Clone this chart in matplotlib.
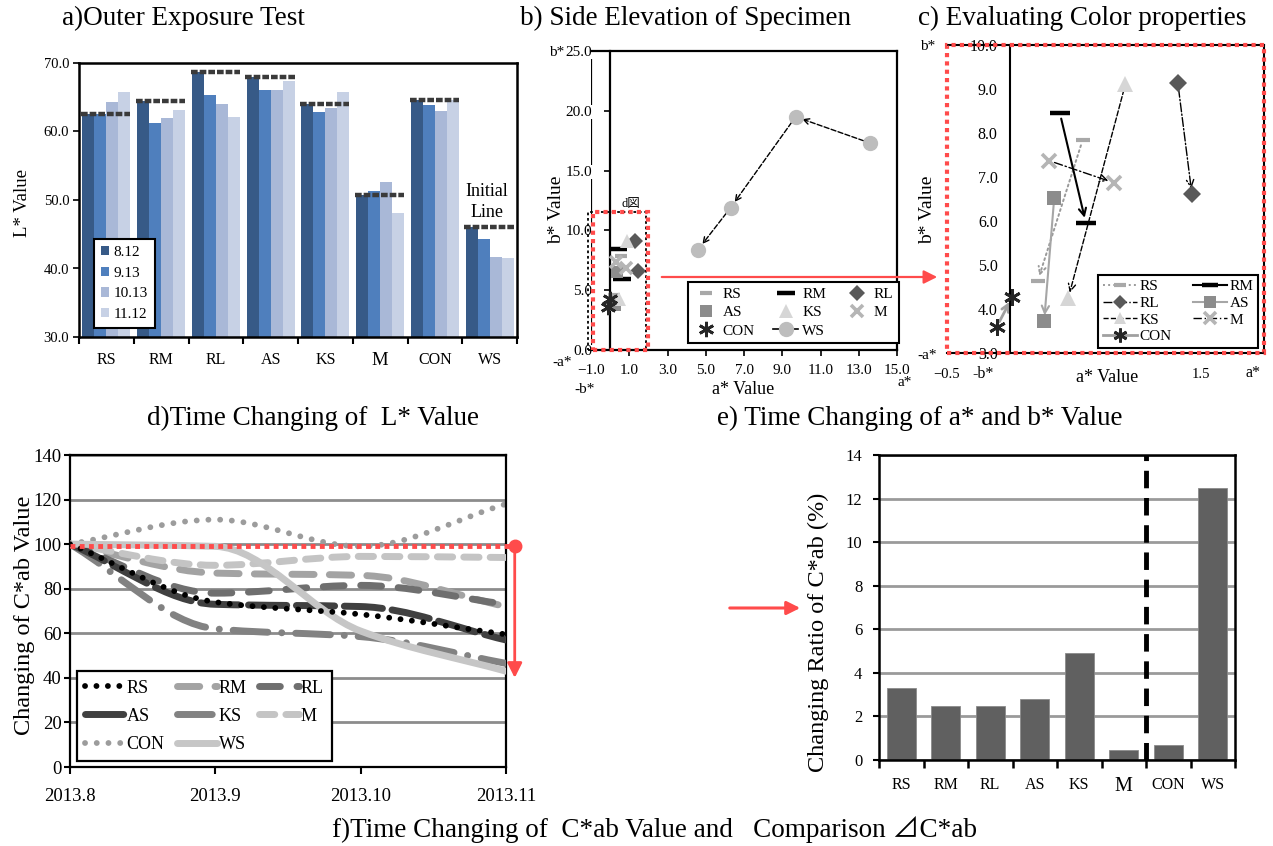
import numpy as np
import matplotlib
matplotlib.use("Agg")
import matplotlib.pyplot as plt
import matplotlib.transforms as mtransforms
from matplotlib.path import Path
from matplotlib.patches import PathPatch, Rectangle, FancyArrowPatch
from matplotlib.lines import Line2D

plt.rcParams["font.family"] = ["Liberation Serif", "Noto Sans CJK JP", "DejaVu Sans"]
plt.rcParams["axes.unicode_minus"] = True

# ---------------- data ----------------
cats = ["RS", "RM", "RL", "AS", "KS", "M", "CON", "WS"]

# a) L* value at each measuring date
dates_a = ["8.12", "9.13", "10.13", "11.12"]
l_812 = [62.6, 64.5, 68.7, 68.0, 64.0, 50.7, 64.6, 46.0]
l_913 = [62.6, 61.2, 65.3, 66.0, 62.9, 51.3, 63.9, 44.3]
l_1013 = [64.3, 62.0, 64.0, 66.1, 63.5, 52.6, 63.0, 41.7]
l_1112 = [65.7, 63.2, 62.1, 67.3, 65.7, 48.1, 64.6, 41.6]

# b), c) a*/b* coordinates: first and last measurement (RS..CON)
ab_names = ["RS", "RM", "RL", "AS", "KS", "M", "CON"]
a_start = [0.571, 0.392, 1.321, 0.347, 0.908, 0.308, -0.105]
b_start = [7.84, 8.45, 9.14, 6.52, 9.11, 7.37, 3.60]
a_end = [0.216, 0.597, 1.432, 0.268, 0.458, 0.816, 0.018]
b_end = [4.63, 5.95, 6.61, 3.73, 4.25, 6.87, 4.28]
ws_a = [13.6, 9.7, 6.3, 4.6]
ws_b = [17.3, 19.5, 11.9, 8.4]

# d) relative C*ab value (%) per month
months = ["2013.8", "2013.9", "2013.10", "2013.11"]
c_rs = [100, 74, 68.5, 59.5]
c_rm = [100, 87, 86, 72]
c_rl = [100, 78, 81.5, 73]
c_as = [100, 73, 72, 57]
c_ks = [100, 62, 58.5, 46.5]
c_m = [100, 90.5, 94.5, 94]
c_con = [100, 111, 99, 118]
c_ws = [100, 99, 61, 43]
c_initial = 99

# e) changing ratio of C*ab (%)
ratio = [3.29, 2.49, 2.49, 2.80, 4.91, 0.44, 0.69, 12.5]

# ---------------- layout helpers ----------------
W, H = 1273, 846
fig = plt.figure(figsize=(W / 100, H / 100), dpi=100)
RED = "#ff4b4b"


def box(x0, y0, x1, y1):
    return [x0 / W, 1 - y1 / H, (x1 - x0) / W, (y1 - y0) / H]


def ftext(x, y, s, **kw):
    kw.setdefault("ha", "center")
    kw.setdefault("va", "center")
    fig.text(x / W, 1 - y / H, s, **kw)


def smooth_path(xs, ys):
    """Monotone cubic (PCHIP-style) curve through the points as Bezier segments."""
    xs = np.asarray(xs, float)
    ys = np.asarray(ys, float)
    h = np.diff(xs)
    d = np.diff(ys) / h
    m = np.zeros_like(ys)
    m[0], m[-1] = d[0], d[-1]
    for i in range(1, len(ys) - 1):
        if d[i - 1] * d[i] > 0:
            m[i] = 2.0 / (1.0 / d[i - 1] + 1.0 / d[i])
    verts = [(xs[0], ys[0])]
    codes = [Path.MOVETO]
    for i in range(len(xs) - 1):
        verts += [(xs[i] + h[i] / 3, ys[i] + m[i] * h[i] / 3),
                  (xs[i + 1] - h[i] / 3, ys[i + 1] - m[i + 1] * h[i] / 3),
                  (xs[i + 1], ys[i + 1])]
        codes += [Path.CURVE4] * 3
    return Path(verts, codes)


# titles
TFS = 19.5
ftext(183, 18, "a)Outer Exposure Test", fontsize=TFS)
ftext(685, 18, "b) Side Elevation of Specimen", fontsize=TFS)
ftext(1082, 18, "c) Evaluating Color properties", fontsize=TFS)
ftext(313, 418, "d)Time Changing of  L* Value", fontsize=TFS)
ftext(920, 418, "e) Time Changing of a* and b* Value", fontsize=TFS)
ftext(654, 830, "f)Time Changing of  C*ab Value and   Comparison \u22bfC*ab",
      fontsize=TFS, family=["Liberation Serif", "Noto Sans CJK JP"])

# ---------------- a) bar chart ----------------
ax = fig.add_axes(box(79, 63, 517, 337))
x = np.arange(len(cats))
bw = 0.22
cols_a = ["#375a87", "#4f7fbd", "#a9b8d7", "#c7d1e5"]
for k, (vals, c, lab) in enumerate(zip([l_812, l_913, l_1013, l_1112], cols_a, dates_a)):
    ax.bar(x + (k - 1.5) * bw, vals, bw, color=c, label=lab, zorder=2)
for i, v in enumerate(l_812):
    ax.plot([i - 0.46, i + 0.44], [v, v], color="#3a3a3a", lw=3.2,
            ls=(0, (1.5, 0.45)), solid_capstyle="butt", zorder=3)
ax.text(6.95, 49.7, "Initial\nLine", ha="center", va="center", fontsize=13,
        linespacing=1.3)
ax.set_xlim(-0.5, 7.5)
ax.set_ylim(30, 70)
ax.set_yticks(np.arange(30, 71, 10))
ax.set_yticklabels([f"{v:.1f}" for v in np.arange(30, 71, 10)], fontsize=10.5)
ax.set_xticks(x)
ax.set_xticklabels(cats, fontsize=11.5)
for lbl in ax.get_xticklabels():
    if lbl.get_text() == "M":
        lbl.set_fontsize(13.5)
ax.set_xticks(np.arange(-0.5, 8, 1), minor=True)
ax.tick_params(axis="x", which="major", length=0, pad=11)
ax.tick_params(axis="x", which="minor", length=5, width=1.5, direction="out")
ax.tick_params(axis="y", length=4, width=1.2, direction="out", pad=3)
for s in ax.spines.values():
    s.set_linewidth(1.8)
ax.set_ylabel("L* Value", fontsize=13.5)
ax.yaxis.set_label_coords(-0.11, 0.489)
leg = ax.legend(loc="lower left", bbox_to_anchor=(0.034, 0.033), fontsize=11,
                fancybox=False, edgecolor="black", handlelength=0.55,
                handleheight=0.55, labelspacing=0.5, borderpad=0.45,
                handletextpad=0.3, framealpha=1, borderaxespad=0)
leg.get_frame().set_linewidth(1.5)

# ---------------- marker styles for a*/b* panels ----------------
mstyle = {
    "RS": dict(marker="_", color="#a8a8a8", ms=9, mew=3),
    "RM": dict(marker="_", color="black", ms=13, mew=3.2),
    "RL": dict(marker="D", color="#595959", ms=8, mew=0),
    "AS": dict(marker="s", color="#8c8c8c", ms=9, mew=0),
    "KS": dict(marker="^", color="#d6d6d6", ms=10, mew=0),
    "M": dict(marker="x", color="#b5b5b5", ms=9, mew=2.6),
    "CON": dict(marker=(6, 2, 0), color="#262626", ms=11, mew=2),
}
lstyle = {
    "RS": dict(color="#9a9a9a", ls=":", lw=1.4),
    "RM": dict(color="black", ls="-", lw=1.5),
    "RL": dict(color="black", ls="-.", lw=1.0),
    "AS": dict(color="#a6a6a6", ls="-", lw=1.5),
    "KS": dict(color="black", ls="--", lw=1.0),
    "M": dict(color="black", ls=(0, (6, 2, 1, 2)), lw=1.0),
    "CON": dict(color="#a0a0a0", ls="-", lw=2.0),
}

# ---------------- b) a*-b* plane ----------------
ax = fig.add_axes(box(591, 51, 897, 350))
ax.set_xlim(-1, 15)
ax.set_ylim(0, 25)
ax.spines["left"].set_position(("data", 0))
for s in ax.spines.values():
    s.set_linewidth(1.6)
ax.axvline(-1, color="black", lw=1.6, zorder=0)
ax.set_xticks(np.arange(-1, 16, 2))
ax.set_xticklabels([f"{v:.1f}".replace("-", "\u2212") for v in np.arange(-1, 16, 2)],
                   fontsize=11)
ax.set_yticks(np.arange(0, 26, 5))
ax.set_yticklabels([f"{v:.1f}" for v in np.arange(0, 26, 5)], fontsize=11)
ax.tick_params(axis="x", length=4, width=1.2, direction="out", pad=6)
ax.tick_params(axis="y", length=4, width=1.2, direction="out", pad=9)
for lbl in ax.get_yticklabels():
    lbl.set_bbox(dict(facecolor="white", edgecolor="none", pad=0.3))
ax.add_patch(Rectangle((-1.15, 0), 3.05, 11.5, fill=False, ec="black",
                       ls=(0, (1.5, 1.5)), lw=1.3, zorder=4, clip_on=False))
ax.add_patch(Rectangle((-0.9, 0), 2.9, 11.5, fill=False, ec=RED, ls=(0, (1, 1)),
                       lw=3, zorder=5, clip_on=False))
ax.text(1.1, 12.2, "d\u56f3", fontsize=9, ha="center", va="center",
        family=["Liberation Serif", "Noto Sans CJK JP"])
handles_b = {}
for i, name in enumerate(ab_names):
    st = mstyle[name]
    h, = ax.plot([a_start[i], a_end[i]], [b_start[i], b_end[i]], ls="none",
                 marker=st["marker"], color=st["color"], ms=st["ms"], mew=st["mew"],
                 zorder=3)
    handles_b[name] = h
ax.plot(ws_a, ws_b, ls="none", marker="o", color="#bdbdbd", ms=10, zorder=3)
for j in range(len(ws_a) - 1):
    ax.annotate("", xy=(ws_a[j + 1], ws_b[j + 1]), xytext=(ws_a[j], ws_b[j]),
                arrowprops=dict(arrowstyle="->", color="black", lw=1.0, ls="--",
                                shrinkA=5, shrinkB=5, mutation_scale=10), zorder=2)
handles_b["WS"] = Line2D([], [], color="black", lw=1.2, marker="o",
                         mfc="#bdbdbd", mec="#bdbdbd", ms=10)
order = ["RS", "AS", "CON", "RM", "KS", "WS", "RL", "M"]
leg = ax.legend([handles_b[n] for n in order], order, ncol=3, loc="lower right",
                bbox_to_anchor=(1.005, 0.023), fontsize=11, fancybox=False,
                edgecolor="black", framealpha=1, handlelength=1.6,
                handletextpad=0.3, columnspacing=1.2, labelspacing=0.3,
                borderpad=0.35, borderaxespad=0)
leg.get_frame().set_linewidth(1.5)
ftext(557, 52, "b*", fontsize=11)
ftext(562, 362, "-a*", fontsize=11)
ftext(585, 389, "-b*", fontsize=11)
ftext(743, 389, "a* Value", fontsize=13)
ftext(905, 382, "a*", fontsize=11)
ftext(557, 210, "b* Value", fontsize=14, rotation=90)

# ---------------- c) enlarged a*-b* plane ----------------
ax = fig.add_axes(box(946.7, 45, 1264, 353))
ax.set_xlim(-0.5, 2.0)
ax.set_ylim(3, 10)
ax.spines["left"].set_position(("data", 0))
for s in ax.spines.values():
    s.set_linewidth(1.5)
ax.set_yticks(np.arange(3, 11, 1))
ax.set_yticklabels([f"{v:.1f}" for v in np.arange(3, 11, 1)], fontsize=11.5)
ax.tick_params(axis="y", length=0, pad=9)
ax.set_xticks([-0.5, 1.5])
ax.set_xticklabels(["\u22120.5", "1.5"], fontsize=10.5)
ax.tick_params(axis="x", length=0, pad=11)
ax.add_patch(Rectangle((0, 0), 1, 1, transform=ax.transAxes, fill=False, ec=RED,
                       ls=(0, (1, 1)), lw=3, zorder=6, clip_on=False))
handles_c = {}
for i, name in enumerate(ab_names):
    st = mstyle[name]
    ls_ = lstyle[name]
    ax.annotate("", xy=(a_end[i], b_end[i]), xytext=(a_start[i], b_start[i]),
                arrowprops=dict(arrowstyle="->", color=ls_["color"], lw=ls_["lw"],
                                ls=ls_["ls"], shrinkA=4, shrinkB=4,
                                mutation_scale=13), zorder=2)
    ax.plot([a_start[i], a_end[i]], [b_start[i], b_end[i]], ls="none",
            marker=st["marker"], color=st["color"], ms=st["ms"] + 1, mew=st["mew"],
            zorder=3)
    handles_c[name] = Line2D([], [], color=ls_["color"], lw=ls_["lw"], ls=ls_["ls"],
                             marker=st["marker"], mfc=st["color"], mec=st["color"],
                             ms=st["ms"] - 1, mew=st["mew"], markevery=[1])
order_c = ["RS", "RL", "KS", "CON", "RM", "AS", "M"]
leg = ax.legend([handles_c[n] for n in order_c], order_c, ncol=2, loc="lower right",
                bbox_to_anchor=(0.982, 0.016), fontsize=11, fancybox=False,
                edgecolor="black", framealpha=1, handlelength=2.2,
                handletextpad=0.2, columnspacing=1.4, labelspacing=0.2,
                borderpad=0.3, borderaxespad=0)
leg.get_frame().set_linewidth(1.5)
ftext(928, 46, "b*", fontsize=11)
ftext(927, 355, "-a*", fontsize=11)
ftext(983, 374, "-b*", fontsize=11.5)
ftext(1107, 377, "a* Value", fontsize=13)
ftext(1253, 373, "a*", fontsize=11.5)
ftext(928, 210, "b* Value", fontsize=14, rotation=90)

# arrow from region box in b) to c)
fig.add_artist(FancyArrowPatch((659 / W, 1 - 277 / H), (940 / W, 1 - 277 / H),
                               transform=fig.transFigure, arrowstyle="-|>",
                               mutation_scale=20, color=RED, lw=1.6))

# ---------------- d) C*ab over time ----------------
ax = fig.add_axes(box(70, 455, 506, 767))
xm = np.arange(len(months))
ax.set_xlim(0, 3)
ax.set_ylim(0, 140)
ax.set_yticks(np.arange(0, 141, 20))
ax.set_yticklabels([str(v) for v in range(0, 141, 20)], fontsize=13.5)
ax.set_xticks(xm)
ax.set_xticklabels(months, fontsize=13.5)
ax.tick_params(axis="x", length=5, width=1.5, direction="out", pad=10)
ax.tick_params(axis="y", length=4, width=1.5, direction="out", pad=2)
ax.grid(axis="y", color="#8c8c8c", lw=2)
ax.set_axisbelow(True)
for s in ax.spines.values():
    s.set_linewidth(1.6)
ax.set_ylabel("Changing of C*ab Value", fontsize=17.5)
ax.yaxis.set_label_coords(-0.08, 0.487)

d_series = [
    ("RS", c_rs, dict(color="black", lw=4.2, ls=(0, (0.01, 1.95)), cap="round"), 7),
    ("RM", c_rm, dict(color="#a3a3a3", lw=5, ls=(0, (3.2, 2.2)), cap="round"), 3),
    ("RL", c_rl, dict(color="#6f6f6f", lw=5, ls=(0, (3.0, 2.4)), cap="round"), 4),
    ("AS", c_as, dict(color="#404040", lw=5, ls=(0, (5.5, 1.4)), cap="round"), 5),
    ("KS", c_ks, dict(color="#828282", lw=5, ls=(0, (5.0, 2.0, 0.01, 2.0)), cap="round"), 4),
    ("M", c_m, dict(color="#c4c4c4", lw=5, ls=(0, (2.2, 1.6)), cap="round"), 3),
    ("CON", c_con, dict(color="#9c9c9c", lw=4.2, ls=(0, (0.01, 2.0)), cap="round"), 2),
    ("WS", c_ws, dict(color="#c6c6c6", lw=5, ls="-", cap="round"), 6),
]
handles_d = {}
for name, vals, st, z in d_series:
    patch = PathPatch(smooth_path(xm, vals), fill=False, ec=st["color"], lw=st["lw"],
                      ls=st["ls"], zorder=z)
    patch.set_capstyle(st["cap"])
    ax.add_patch(patch)
    handles_d[name] = Line2D([], [], color=st["color"], lw=st["lw"], ls=st["ls"],
                             dash_capstyle=st["cap"], solid_capstyle=st["cap"])
order_d = ["RS", "AS", "CON", "RM", "KS", "WS", "RL", "M"]
leg = ax.legend([handles_d[n] for n in order_d], order_d, ncol=3, loc="lower left",
                bbox_to_anchor=(0.016, 0.019), fontsize=13, fancybox=False,
                edgecolor="black", framealpha=1, handlelength=2.2,
                handletextpad=0.1, columnspacing=0.7, labelspacing=0.62,
                borderpad=0.45, borderaxespad=0)
leg.get_frame().set_linewidth(1.6)
leg.set_zorder(9)

trans = mtransforms.blended_transform_factory(ax.transAxes, ax.transData)
ax.plot([0, 1.02], [c_initial, c_initial], transform=trans, color=RED, lw=3.5,
        ls=(0, (1, 0.9)), clip_on=False, zorder=10)
ax.plot([1.02], [c_initial], "o", transform=trans, color=RED, ms=9, clip_on=False,
        zorder=10)
ax.annotate("", xy=(1.02, 40), xytext=(1.02, c_initial), xycoords=trans,
            textcoords=trans, annotation_clip=False,
            arrowprops=dict(arrowstyle="-|>", color=RED, lw=2, mutation_scale=22,
                            shrinkA=0, shrinkB=0))

fig.add_artist(FancyArrowPatch((727 / W, 1 - 608 / H), (803 / W, 1 - 608 / H),
                               transform=fig.transFigure, arrowstyle="-|>",
                               mutation_scale=20, color=RED, lw=2.2))

# ---------------- e) changing ratio bars ----------------
ax = fig.add_axes(box(879, 455, 1235, 760))
ax.bar(x, ratio, 0.66, color="#606060", edgecolor="#8a8a8a", lw=0.6, zorder=2)
ax.axvline(5.5, color="black", lw=3.5, ls=(0, (3.6, 2.0)), zorder=3)
ax.set_xlim(-0.5, 7.5)
ax.set_ylim(0, 14)
ax.set_yticks(np.arange(0, 15, 2))
ax.set_yticklabels([str(v) for v in range(0, 15, 2)], fontsize=12)
ax.set_xticks(x)
ax.set_xticklabels(cats, fontsize=11.5)
for lbl in ax.get_xticklabels():
    if lbl.get_text() == "M":
        lbl.set_fontsize(14.5)
ax.set_xticks(np.arange(-0.5, 8, 1), minor=True)
ax.tick_params(axis="x", which="major", length=0, pad=12)
ax.tick_params(axis="x", which="minor", length=6, width=1.8, direction="out")
ax.tick_params(axis="y", length=4, width=1.5, direction="out", pad=8)
ax.grid(axis="y", color="#9a9a9a", lw=2)
ax.set_axisbelow(True)
for s in ax.spines.values():
    s.set_linewidth(1.8)
ax.set_ylabel("Changing Ratio of C*ab (%)", fontsize=17.5)
ax.yaxis.set_label_coords(-0.14, 0.42)

fig.savefig("out.png", dpi=100)
